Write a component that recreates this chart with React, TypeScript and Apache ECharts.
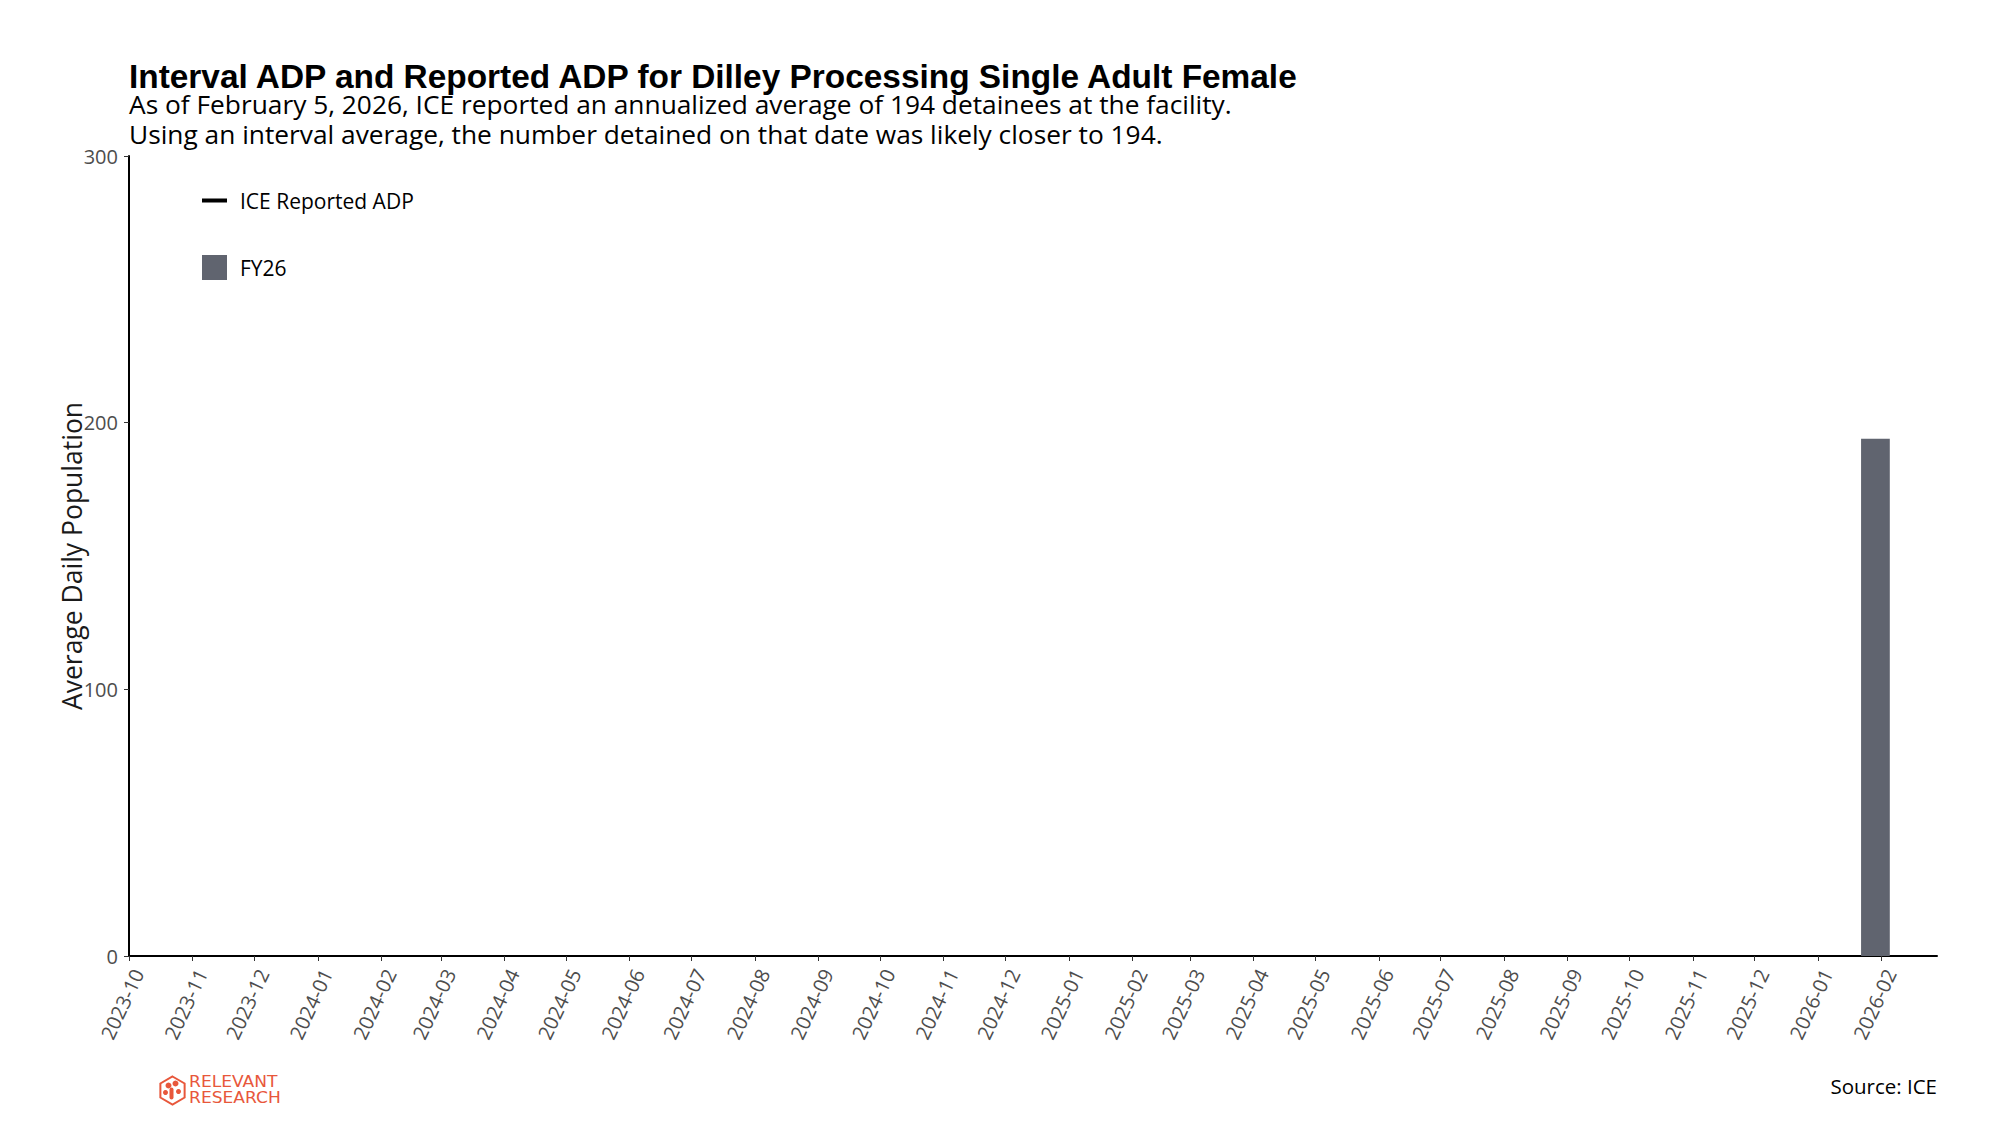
import React, { useEffect, useRef } from "react";
import * as echarts from "echarts";

const titleText = "Interval ADP and Reported ADP for Dilley Processing Single Adult Female";
const subtitleLines = [
  "As of February 5, 2026, ICE reported an annualized average of 194 detainees at the facility.",
  "Using an interval average, the number detained on that date was likely closer to 194.",
];
const yAxisName = "Average Daily Population";
const sourceText = "Source: ICE";
const logoLines = ["RELEVANT", "RESEARCH"];

// axis range (dates)
const axisStart = "2023-10-01";
const axisEnd = "2026-02-28";
const yTicks = [0, 100, 200, 300];

// FY26 interval bar: [start, end, value]
const fy26Start = ["2026-01-22"];
const fy26End = ["2026-02-05"];
const fy26Values = [194];

// ICE reported ADP (single reported point)
const reportedDates = ["2026-02-05"];
const reportedValues = [194];

const toTs = (s: string) => {
  const [y, m, d] = s.split("-").map(Number);
  return new Date(y, m - 1, d).getTime();
};

const FONT = "'Open Sans', 'Noto Sans', sans-serif";
const BAR_COLOR = "#60646f";
const LOGO_COLOR = "#e8573b";
const LINE_ICON = "path://M0,0h0.01v0.01h-0.01z M0,10.5h25v4h-25z M24.99,24.99h0.01v0.01h-0.01z";

export default function App() {
  const ref = useRef<HTMLDivElement>(null);
  useEffect(() => {
    if (!ref.current) return;
    const chart = echarts.init(ref.current, null, { renderer: "svg" });
    const day = 86400000;
    const barData = fy26Values.map((v, i) => [toTs(fy26Start[i]), toTs(fy26End[i]), v]);
    const lineData = reportedValues.map((v, i) => [toTs(reportedDates[i]), v]);

    const hexR = 14;
    const hcx = 172.5;
    const hcy = 1090.5;
    const hexPts: number[][] = [];
    for (let k = 0; k < 6; k++) {
      const a = (Math.PI / 3) * k - Math.PI / 2;
      hexPts.push([hcx + hexR * Math.cos(a), hcy + hexR * Math.sin(a)]);
    }

    const textEl = (
      x: number,
      y: number,
      text: string,
      font: string,
      fill: string,
      align: string,
      lineHeight: number,
      scaleX = 1
    ) => ({
      type: "text",
      x,
      y,
      scaleX,
      style: { x: 0, y: 0, text, font, fill, align, verticalAlign: "middle", lineHeight },
    });

    const option: any = {
      animation: false,
      backgroundColor: "#ffffff",
      grid: { left: 129, right: 63, top: 156, bottom: 169, outerBoundsMode: "none" },
      legend: {
        orient: "vertical",
        left: 202,
        top: 188,
        padding: 0,
        itemWidth: 25,
        itemHeight: 25,
        itemGap: 42,
        textStyle: { fontFamily: FONT, fontSize: 21, color: "#000", padding: [0, 0, 0, 8] },
        data: [
          { name: "ICE Reported ADP", icon: LINE_ICON, itemStyle: { color: "#000" } },
          { name: "FY26", icon: "rect" },
        ],
      },
      xAxis: {
        type: "time",
        min: toTs(axisStart),
        max: toTs(axisEnd),
        minInterval: 28 * day,
        maxInterval: 31 * day,
        splitLine: { show: false },
        axisLine: { show: true, lineStyle: { color: "#000", width: 2 } },
        axisTick: { show: true, length: 5, lineStyle: { color: "#333", width: 1 } },
        axisLabel: {
          rotate: 65,
          margin: 10,
          verticalAlign: "top",
          fontFamily: FONT,
          fontSize: 20,
          color: "#4d4d4d",
          hideOverlap: false,
          formatter: (val: number) => {
            const d = new Date(val);
            const m = d.getMonth() + 1;
            return `${d.getFullYear()}-${m < 10 ? "0" + m : m}`;
          },
        },
      },
      yAxis: {
        type: "value",
        min: yTicks[0],
        max: yTicks[yTicks.length - 1],
        interval: 100,
        name: yAxisName,
        nameLocation: "middle",
        nameGap: 44,
        nameMoveOverlap: false,
        nameTextStyle: { fontFamily: FONT, fontSize: 26.5, color: "#1a1a1a" },
        splitLine: { show: false },
        axisLine: { show: true, lineStyle: { color: "#000", width: 2 } },
        axisTick: { show: true, length: 5, lineStyle: { color: "#333", width: 1 } },
        axisLabel: { margin: 11, fontFamily: FONT, fontSize: 20, color: "#4d4d4d" },
      },
      series: [
        {
          name: "ICE Reported ADP",
          type: "line",
          data: lineData,
          symbol: "none",
          showSymbol: false,
          color: "#000",
          itemStyle: { color: "#000" },
          lineStyle: { color: "#000", width: 3 },
        },
        {
          name: "FY26",
          type: "custom",
          color: BAR_COLOR,
          itemStyle: { color: BAR_COLOR },
          encode: { x: [0, 1], y: 2 },
          data: barData,
          renderItem: (params: any, api: any) => {
            const p0 = api.coord([api.value(0), api.value(2)]);
            const p1 = api.coord([api.value(1), 0]);
            return {
              type: "rect",
              shape: { x: p0[0], y: p0[1], width: p1[0] - p0[0], height: p1[1] - p0[1] },
              style: { fill: BAR_COLOR },
            };
          },
        },
      ],
      graphic: [
        textEl(129, 76, titleText, "bold 33.4px 'Liberation Sans', Arial, sans-serif", "#000", "left", 30),
        textEl(129, 104, subtitleLines[0], `26.3px ${FONT}`, "#000", "left", 26),
        textEl(129, 134, subtitleLines[1], `26.3px ${FONT}`, "#000", "left", 26),
        textEl(1937, 1086, sourceText, `20.5px ${FONT}`, "#000", "right", 24),
        {
          type: "polygon",
          shape: { points: hexPts },
          style: { fill: "none", stroke: LOGO_COLOR, lineWidth: 2 },
        },
        { type: "circle", shape: { cx: hcx - 4, cy: hcy - 5, r: 3 }, style: { fill: LOGO_COLOR } },
        { type: "circle", shape: { cx: hcx + 3, cy: hcy - 7, r: 3 }, style: { fill: LOGO_COLOR } },
        { type: "circle", shape: { cx: hcx + 6, cy: hcy + 1, r: 2.5 }, style: { fill: LOGO_COLOR } },
        { type: "circle", shape: { cx: hcx - 7, cy: hcy + 2, r: 2.5 }, style: { fill: LOGO_COLOR } },
        {
          type: "line",
          shape: { x1: hcx - 1, y1: hcy - 1, x2: hcx - 1, y2: hcy + 7 },
          style: { stroke: LOGO_COLOR, lineWidth: 4, lineCap: "round" },
        },
        textEl(189, 1082, logoLines[0], "15px 'DejaVu Sans', sans-serif", LOGO_COLOR, "left", 15, 1.14),
        textEl(189, 1098, logoLines[1], "15px 'DejaVu Sans', sans-serif", LOGO_COLOR, "left", 15, 1.14),
      ],
    };
    chart.setOption(option);
    return () => chart.dispose();
  }, []);
  return (
    <div
      ref={ref}
      style={{ position: "fixed", left: 0, top: 0, width: 2000, height: 1125, background: "#fff" }}
    />
  );
}
